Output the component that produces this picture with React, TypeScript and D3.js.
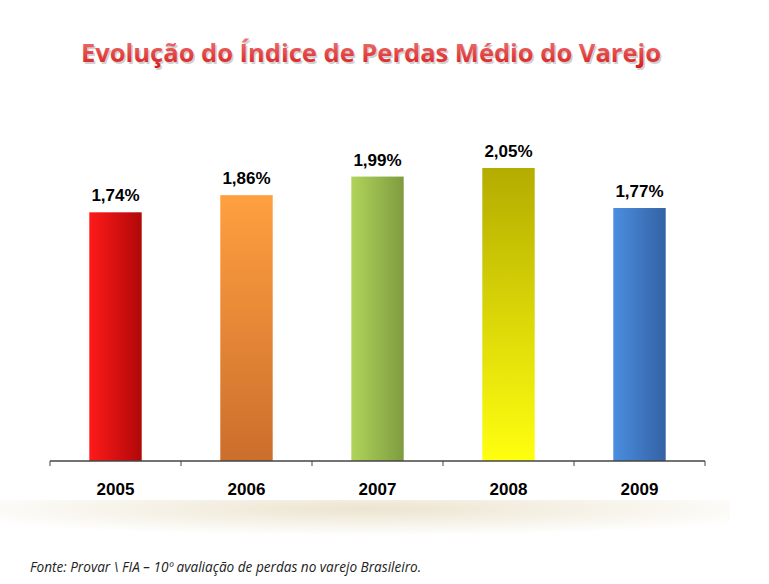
import React from 'react';
import * as d3 from 'd3';

const years = ['2005', '2006', '2007', '2008', '2009'];
const values = [1.74, 1.86, 1.99, 2.05, 1.77];
const labels = ['1,74%', '1,86%', '1,99%', '2,05%', '1,77%'];

// gradient stops per bar: [x1,y1,x2,y2, from, to]
const grads: [number, number, number, number, string, string][] = [
  [0, 0, 1, 0, '#ff1a1a', '#b00808'],
  [0, 0, 0, 1, '#ffa040', '#cc6e2c'],
  [0, 0, 1, 0, '#b0d45a', '#7e9c40'],
  [0, 0, 0, 1, '#b4ac00', '#ffff10'],
  [0, 0, 1, 0, '#4a8ee0', '#3462a4'],
];

const App: React.FC = () => {
  const width = 769;
  const height = 584;
  const left = 50, right = 705, base = 461;
  const x = d3.scaleBand<string>().domain(years).range([left, right]).paddingInner(0.6).paddingOuter(0.3);
  const y = d3.scaleLinear().domain([0, 2.05]).range([base, 168]);
  const step = x.step();
  const title = 'Evolução do Índice de Perdas Médio do Varejo';

  return (
    <svg width={width} height={height} style={{ position: 'absolute', left: 0, top: 0 }}>
      <defs>
        {grads.map((g, i) => (
          <linearGradient key={i} id={`g${i}`} x1={g[0]} y1={g[1]} x2={g[2]} y2={g[3]}>
            <stop offset="0%" stopColor={g[4]} />
            <stop offset="100%" stopColor={g[5]} />
          </linearGradient>
        ))}
        <linearGradient id="title" x1="0" y1="0" x2="0" y2="1">
          <stop offset="0%" stopColor="#f08080" />
          <stop offset="100%" stopColor="#d81818" />
        </linearGradient>
        <radialGradient id="glow" cx="0.5" cy="0.2" r="0.6">
          <stop offset="0%" stopColor="#ece4cf" />
          <stop offset="100%" stopColor="#ffffff" />
        </radialGradient>
      </defs>
      <rect width={width} height={height} fill="#fff" />
      <rect x={0} y={500} width={730} height={45} fill="url(#glow)" />
      <g transform="translate(371,62)">
        <text textAnchor="middle" fontFamily="'Open Sans', sans-serif" fontWeight="bold"
          fontSize={25.5} fill="#999" opacity={0.45} transform="translate(1.5,1.5)">
          {title}
        </text>
        <text textAnchor="middle" fontFamily="'Open Sans', sans-serif" fontWeight="bold"
          fontSize={25.5} fill="url(#title)">
          {title}
        </text>
      </g>
      {years.map((yr, i) => (
        <g key={yr}>
          <rect x={x(yr)} y={y(values[i])} width={x.bandwidth()} height={base - y(values[i])}
            fill={`url(#g${i})`} />
          <text x={x(yr)! + x.bandwidth() / 2} y={y(values[i]) - 11} textAnchor="middle"
            fontFamily="Liberation Sans, Arial, sans-serif" fontWeight="bold" fontSize={17}>
            {labels[i]}
          </text>
          <text x={x(yr)! + x.bandwidth() / 2} y={495} textAnchor="middle"
            fontFamily="Liberation Sans, Arial, sans-serif" fontWeight="bold" fontSize={17}>
            {yr}
          </text>
        </g>
      ))}
      <line x1={left} x2={right} y1={base} y2={base} stroke="#444" strokeWidth={1.5} />
      {d3.range(6).map((k) => (
        <line key={k} x1={left + k * step} x2={left + k * step} y1={base} y2={base + 5} stroke="#444" />
      ))}
      <text x={30} y={572} fontFamily="'Open Sans', sans-serif" fontStyle="italic" fontSize={13.6} fill="#222">
        Fonte: Provar \ FIA – 10º avaliação de perdas no varejo Brasileiro.
      </text>
    </svg>
  );
};

export default App;
